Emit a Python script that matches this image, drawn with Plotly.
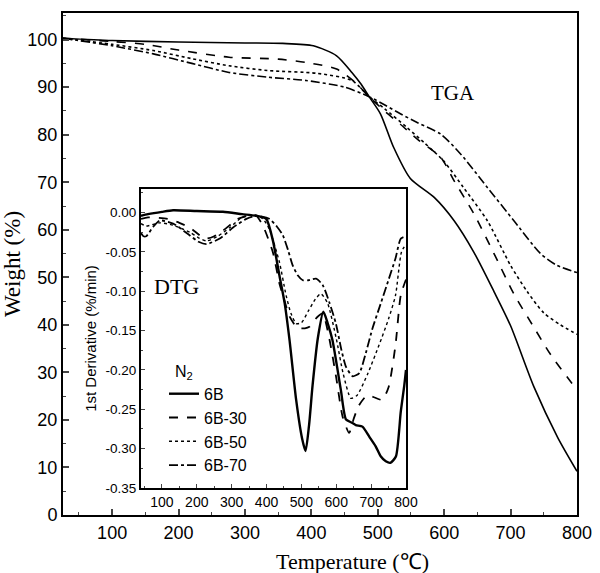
import plotly.graph_objects as go

# ---------------- TGA (main) ----------------
T_6B = [26, 100, 200, 300, 357, 403, 438, 461, 475, 487, 504, 524, 549, 585, 615, 645, 675, 700, 735, 771, 800]
W_6B = [100.3, 99.8, 99.5, 99.3, 99.2, 98.7, 96.6, 93.1, 90.6, 88.0, 84.4, 77.3, 70.8, 66.8, 61.9, 55.2, 47.0, 39.8, 27.0, 16.3, 9.2]

T_30 = [26, 100, 150, 200, 276, 350, 392, 438, 466, 487, 510, 534, 560, 595, 615, 645, 675, 705, 735, 760, 800]
W_30 = [100.3, 99.6, 99.0, 97.8, 96.3, 95.9, 95.2, 93.8, 91.0, 88.0, 85.0, 82.2, 79.0, 75.2, 70.3, 63.3, 55.0, 46.5, 39.5, 33.8, 26.3]

T_50 = [26, 100, 162, 220, 276, 334, 409, 461, 487, 510, 544, 570, 599, 629, 665, 700, 725, 750, 775, 800]
W_50 = [100.3, 99.0, 97.7, 96.0, 94.5, 93.5, 92.9, 91.4, 88.0, 85.5, 81.5, 78.3, 74.5, 68.9, 61.9, 52.5, 47.0, 42.5, 40.0, 38.0]

T_70 = [26, 100, 162, 220, 276, 334, 392, 450, 487, 510, 534, 560, 595, 625, 665, 705, 745, 770, 800]
W_70 = [100.3, 98.7, 97.0, 95.0, 93.1, 92.1, 91.4, 90.0, 88.0, 86.3, 84.4, 82.5, 80.1, 75.9, 68.9, 61.9, 55.0, 52.5, 51.0]

# ---------------- DTG (inset) ----------------
Td_6B = [40, 60, 100, 132, 200, 275, 330, 370, 399, 418, 437, 452, 466, 485, 502, 512, 522, 532, 547, 563, 575, 589, 613, 628, 645, 656, 675, 695, 713, 728, 742, 755, 771, 785, 795, 800]
D_6B = [-0.004, -0.002, 0.001, 0.003, 0.002, 0.001, -0.002, -0.004, -0.008, -0.035, -0.080, -0.115, -0.162, -0.238, -0.287, -0.303, -0.270, -0.220, -0.160, -0.126, -0.140, -0.162, -0.225, -0.263, -0.267, -0.270, -0.272, -0.285, -0.297, -0.310, -0.316, -0.318, -0.310, -0.253, -0.220, -0.200]

Td_30 = [40, 60, 116, 150, 180, 209, 228, 250, 275, 300, 318, 345, 370, 389, 418, 437, 447, 466, 485, 494, 510, 523, 545, 561, 580, 600, 618, 637, 650, 665, 689, 710, 732, 750, 770, 785, 800]
D_30 = [-0.008, -0.006, -0.008, -0.013, -0.019, -0.029, -0.033, -0.030, -0.023, -0.014, -0.008, -0.004, -0.004, -0.016, -0.050, -0.090, -0.105, -0.132, -0.145, -0.147, -0.147, -0.145, -0.133, -0.128, -0.160, -0.210, -0.259, -0.280, -0.262, -0.245, -0.232, -0.235, -0.238, -0.222, -0.168, -0.105, -0.085]

Td_50 = [40, 55, 94, 132, 180, 205, 228, 260, 295, 330, 365, 390, 408, 437, 456, 470, 485, 500, 520, 540, 556, 575, 600, 620, 642, 660, 690, 723, 750, 770, 787, 800]
D_50 = [-0.014, -0.017, -0.013, -0.016, -0.025, -0.032, -0.036, -0.030, -0.019, -0.006, -0.003, -0.008, -0.021, -0.063, -0.105, -0.128, -0.141, -0.140, -0.125, -0.110, -0.103, -0.115, -0.160, -0.205, -0.236, -0.232, -0.205, -0.168, -0.135, -0.105, -0.050, -0.040]

Td_70 = [40, 47, 55, 75, 94, 132, 180, 205, 228, 266, 304, 342, 370, 408, 430, 447, 462, 475, 490, 504, 520, 542, 561, 580, 599, 615, 628, 647, 666, 685, 704, 728, 751, 770, 785, 800]
D_70 = [-0.026, -0.030, -0.030, -0.018, -0.010, -0.014, -0.029, -0.037, -0.040, -0.033, -0.019, -0.008, -0.004, -0.008, -0.018, -0.029, -0.048, -0.067, -0.080, -0.086, -0.086, -0.084, -0.092, -0.114, -0.141, -0.175, -0.196, -0.208, -0.204, -0.178, -0.147, -0.115, -0.084, -0.058, -0.033, -0.030]

series_names = ["6B", "6B-30", "6B-50", "6B-70"]
dashes = ["solid", "dash", "dot", "dashdot"]

main_ticks = [100, 200, 300, 400, 500, 600, 700, 800]
main_yticks = [0, 10, 20, 30, 40, 50, 60, 70, 80, 90, 100]
inset_xticks = [100, 200, 300, 400, 500, 600, 700, 800]
inset_yticks = [0.0, -0.05, -0.10, -0.15, -0.20, -0.25, -0.30, -0.35]
inset_ytext = ["0.00", "-0.05", "-0.10", "-0.15", "-0.20", "-0.25", "-0.30", "-0.35"]

SANS = "Liberation Sans, Arial, sans-serif"
SERIF = "Liberation Serif, Times New Roman, serif"

fig = go.Figure()

tga = [(T_6B, W_6B), (T_30, W_30), (T_50, W_50), (T_70, W_70)]
for (t, w), name, d in zip(tga, series_names, dashes):
    fig.add_trace(go.Scatter(x=t, y=w, mode="lines", name=name, showlegend=False,
                             line=dict(color="black", width=1.6, dash=d, shape="spline", smoothing=0.7),
                             xaxis="x", yaxis="y"))

dtg = [(Td_6B, D_6B), (Td_30, D_30), (Td_50, D_50), (Td_70, D_70)]
widths = [2.4, 1.8, 1.4, 1.8]
for (t, v), name, d, lw in zip(dtg, series_names, dashes, widths):
    fig.add_trace(go.Scatter(x=t, y=v, mode="lines", name=name, showlegend=True,
                             line=dict(color="black", width=lw, dash=d, shape="spline", smoothing=0.6),
                             xaxis="x2", yaxis="y2"))

W, H = 600, 573
L, R, T, B = 63, 23, 13, 58
pw, ph = W - L - R, H - T - B

def px(xp):
    return (xp - L) / pw

def py(yp):
    return (H - B - yp) / ph

fig.update_layout(
    width=W, height=H,
    margin=dict(l=L, r=R, t=T, b=B),
    paper_bgcolor="white", plot_bgcolor="white",
    font=dict(family=SANS, color="black"),
    xaxis=dict(range=[26, 800], tickvals=main_ticks, ticks="inside", ticklen=6, tickwidth=1.5,
               showline=True, mirror=True, linewidth=2, linecolor="black", showgrid=False, zeroline=False,
               minor=dict(dtick=50, tick0=0, ticks="inside", ticklen=3, tickwidth=1),
               tickfont=dict(size=18, family=SANS), automargin=False),
    yaxis=dict(range=[0, 105.6], tickvals=main_yticks, ticks="inside", ticklen=6, tickwidth=1.5,
               showline=True, mirror=True, linewidth=2, linecolor="black", showgrid=False, zeroline=False,
               minor=dict(dtick=5, tick0=0, ticks="inside", ticklen=3, tickwidth=1),
               tickfont=dict(size=18, family=SANS), automargin=False,
               title=dict(text="Weight (%)", font=dict(size=23, family=SERIF), standoff=3)),
    xaxis2=dict(domain=[px(141), px(406)], anchor="y2", range=[40, 800], tickvals=inset_xticks,
                ticks="inside", ticklen=4, tickwidth=1.2, showline=True, mirror=True, linewidth=2,
                linecolor="black", showgrid=False, zeroline=False, automargin=False,
                minor=dict(dtick=50, tick0=0, ticks="inside", ticklen=2, tickwidth=1),
                tickfont=dict(size=14, family=SANS)),
    yaxis2=dict(domain=[py(488), py(189)], anchor="x2", range=[-0.35, 0.03], tickvals=inset_yticks,
                ticktext=inset_ytext, ticks="inside", ticklen=4, tickwidth=1.2, showline=True, mirror=True,
                linewidth=2, linecolor="black", showgrid=False, zeroline=False, automargin=False,
                minor=dict(dtick=0.025, tick0=0, ticks="inside", ticklen=2, tickwidth=1),
                tickfont=dict(size=13.5, family=SANS),
                title=dict(text="1st Derivative (%/min)", font=dict(size=15, family=SANS), standoff=5)),
    legend=dict(x=px(164), y=py(356), xanchor="left", yanchor="top", xref="paper", yref="paper",
                borderwidth=0, bgcolor="rgba(0,0,0,0)",
                font=dict(size=16, family=SANS), tracegroupgap=0,
                title=dict(text="  N<sub>2</sub>", font=dict(size=16, family=SANS), side="top")),
    shapes=[
        dict(type="rect", xref="paper", yref="paper", x0=px(157), x1=px(272), y0=py(468), y1=py(348),
             line=dict(color="black", width=1), fillcolor="white", layer="below"),
    ],
    annotations=[
        dict(text="Temperature (℃)", x=px(352), y=py(561), xref="paper", yref="paper",
             xanchor="center", yanchor="middle", showarrow=False,
             font=dict(size=22, family=SERIF)),
        dict(text="TGA", x=613, y=88.8, xref="x", yref="y", showarrow=False,
             font=dict(size=21, family=SERIF)),
        dict(text="DTG", x=143, y=-0.094, xref="x2", yref="y2", showarrow=False,
             font=dict(size=22, family=SERIF)),
    ],
)

fig.write_html("out.html", config={"displayModeBar": False},
               post_script="document.body.style.margin='0';document.body.style.overflow='hidden';")
